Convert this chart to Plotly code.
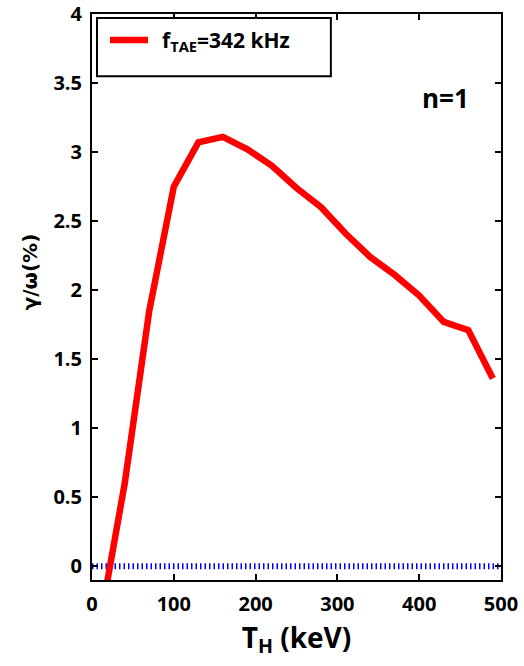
import plotly.graph_objects as go

# Data
t_h = [10, 40, 70, 100, 130, 160, 190, 220, 250, 280, 310, 340, 370, 400, 430, 460, 490]
gamma_omega = [-0.4, 0.6, 1.85, 2.75, 3.07, 3.11, 3.02, 2.9, 2.74, 2.6, 2.41, 2.24, 2.11, 1.96, 1.77, 1.71, 1.36]
zero_x = [0, 500]
zero_y = [0, 0]
x_ticks = [0, 100, 200, 300, 400, 500]
y_ticks = [0, 0.5, 1, 1.5, 2, 2.5, 3, 3.5, 4]
series_name = "f<sub>TAE</sub>=342 kHz"

FONT = "Open Sans"

fig = go.Figure()
fig.add_trace(go.Scatter(x=zero_x, y=zero_y, mode="lines",
                         line=dict(color="#0000ff", width=6, dash="1.5px,3px"),
                         showlegend=False, hoverinfo="skip"))
fig.add_trace(go.Scatter(x=t_h, y=gamma_omega, mode="lines",
                         line=dict(color="#ff0000", width=6.5),
                         name=series_name, showlegend=False))

axis_common = dict(showline=True, linecolor="black", linewidth=2, mirror="allticks",
                   ticks="inside", ticklen=6, tickwidth=2, tickcolor="black",
                   showgrid=False, zeroline=False, automargin=False,
                   tickfont=dict(family=FONT, size=20, color="black", weight="bold"))

fig.update_xaxes(range=[0, 500], tickvals=x_ticks, ticklabelstandoff=5,
                 title=dict(text="T<sub>H</sub> (keV)", standoff=12,
                            font=dict(family=FONT, size=28, color="black", weight="bold")),
                 **axis_common)
fig.update_yaxes(range=[-0.1, 4], tickvals=y_ticks, ticklabelstandoff=4, **axis_common)

# legend box (manual)
fig.add_shape(type="rect", xref="paper", yref="paper", x0=0.0122, x1=0.584, y0=0.890, y1=0.993,
              line=dict(color="black", width=2), fillcolor="white")
fig.add_shape(type="line", xref="paper", yref="paper", x0=0.044, x1=0.137, y0=0.954, y1=0.954,
              line=dict(color="#ff0000", width=6.5))
fig.add_annotation(xref="paper", yref="paper", x=0.166, y=0.952, xanchor="left", yanchor="middle",
                   text=series_name, showarrow=False,
                   font=dict(family=FONT, size=21, color="black", weight="bold"))

fig.add_annotation(xref="paper", yref="paper", x=0.864, y=0.852, xanchor="center", yanchor="middle",
                   text="n=1", showarrow=False,
                   font=dict(family=FONT, size=26, color="black", weight="bold"))

fig.add_annotation(xref="paper", yref="paper", x=-0.152, y=0.545, xanchor="center", yanchor="middle",
                   text="γ/ω(%)", textangle=-90, showarrow=False,
                   font=dict(family="DejaVu Sans", size=20, color="black", weight="bold"))

fig.update_layout(width=524, height=666, margin=dict(l=92, r=23, t=14, b=86, autoexpand=False),
                  plot_bgcolor="white", paper_bgcolor="white")

fig.write_html("out.html", config={"displayModeBar": False},
               post_script="document.body.style.margin='0';")
